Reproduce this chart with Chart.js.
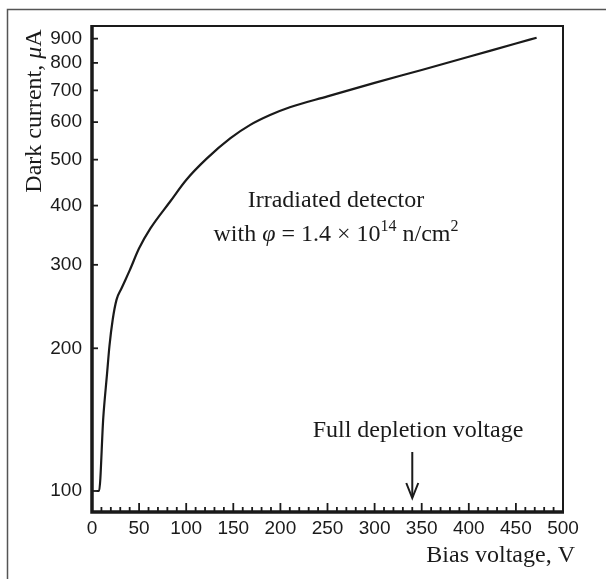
<!DOCTYPE html>
<html>
<head>
<meta charset="utf-8">
<script src="https://cdn.jsdelivr.net/npm/chart.js@4"></script>
<style>
html,body{margin:0;padding:0;background:#fff;}
#wrap{position:relative;width:606px;height:579px;}
</style>
</head>
<body>
<div id="wrap"><canvas id="c" width="606" height="579"></canvas></div>
<script>
// Data
const biasVoltage = [5, 7.5, 12, 16, 18.5, 22, 26, 31.5, 40, 50, 62, 83, 100, 122, 147, 168, 189, 210, 250, 300, 350, 400, 450, 472];
const darkCurrent = [100, 100, 143, 177, 202, 230, 253, 268, 292, 325, 358, 408, 453, 503, 555, 592, 621, 645, 680, 726, 773, 824, 879, 904];
const yTickValues = [100, 200, 300, 400, 500, 600, 700, 800, 900];
const xMajorStep = 50;
const xMinorStep = 10;
const depletionVoltage = 340;
const annotationLine1 = "Irradiated detector";
const xTitle = "Bias voltage, V";
const depletionLabel = "Full depletion voltage";

const SERIF = '"Liberation Serif", "Times New Roman", serif';
const SANS = '"Liberation Sans", Arial, sans-serif';
const INK = '#1a1a1a';
const FS = 24, FSUP = 16;

function drawParts(ctx, parts, x0, y) {
  ctx.textAlign = 'left';
  parts.forEach(p => { ctx.font = p.f; ctx.fillText(p.t, x0, y + (p.dy || 0)); x0 += ctx.measureText(p.t).width; });
}
function partsWidth(ctx, parts) {
  let w = 0;
  parts.forEach(p => { ctx.font = p.f; w += ctx.measureText(p.t).width; });
  return w;
}

const decorPlugin = {
  id: 'decor',
  beforeDraw(chart) {
    const ctx = chart.ctx;
    ctx.save();
    ctx.fillStyle = '#fff';
    ctx.fillRect(0, 0, chart.width, chart.height);
    ctx.strokeStyle = '#555';
    ctx.lineWidth = 1.5;
    ctx.beginPath();
    ctx.moveTo(7.5, chart.height);
    ctx.lineTo(7.5, 9.5);
    ctx.lineTo(chart.width, 9.5);
    ctx.stroke();
    ctx.restore();
  },
  afterDraw(chart) {
    const ctx = chart.ctx;
    const a = chart.chartArea;
    const xs = chart.scales.x, ys = chart.scales.y;
    ctx.save();
    ctx.strokeStyle = INK;
    ctx.lineWidth = 2;
    ctx.beginPath();
    ctx.moveTo(a.left, a.top); ctx.lineTo(a.right, a.top); ctx.lineTo(a.right, a.bottom);
    ctx.stroke();
    ctx.lineWidth = 3.5;
    ctx.beginPath();
    ctx.moveTo(a.left, a.top - 1); ctx.lineTo(a.left, a.bottom); ctx.lineTo(a.right + 1, a.bottom);
    ctx.stroke();
    ctx.lineWidth = 1.8;
    for (let v = xs.min; v <= xs.max; v += xMinorStep) {
      const px = xs.getPixelForValue(v);
      const len = (v % xMajorStep === 0) ? 9 : 5;
      ctx.beginPath(); ctx.moveTo(px, a.bottom); ctx.lineTo(px, a.bottom - len); ctx.stroke();
    }
    yTickValues.forEach(v => {
      const py = ys.getPixelForValue(v);
      ctx.beginPath(); ctx.moveTo(a.left, py); ctx.lineTo(a.left + 6, py); ctx.stroke();
    });
    ctx.fillStyle = INK;
    ctx.textBaseline = 'alphabetic';
    const cx = 336;
    ctx.font = FS + 'px ' + SERIF;
    ctx.textAlign = 'center';
    ctx.fillText(annotationLine1, cx, 207);
    const parts = [
      {t: 'with ', f: FS + 'px ' + SERIF},
      {t: '\u03C6', f: 'italic ' + FS + 'px ' + SERIF},
      {t: ' = 1.4 \u00D7 10', f: FS + 'px ' + SERIF},
      {t: '14', f: FSUP + 'px ' + SERIF, dy: -10},
      {t: ' n/cm', f: FS + 'px ' + SERIF},
      {t: '2', f: FSUP + 'px ' + SERIF, dy: -10}
    ];
    drawParts(ctx, parts, cx - partsWidth(ctx, parts) / 2, 241);
    const ax = xs.getPixelForValue(depletionVoltage);
    ctx.font = FS + 'px ' + SERIF;
    ctx.textAlign = 'center';
    ctx.fillText(depletionLabel, 418, 437);
    ctx.lineWidth = 2;
    ctx.beginPath(); ctx.moveTo(ax, 452); ctx.lineTo(ax, 497); ctx.stroke();
    ctx.beginPath(); ctx.moveTo(ax - 6, 483); ctx.lineTo(ax, 498); ctx.lineTo(ax + 6, 483); ctx.stroke();
    ctx.font = FS + 'px ' + SERIF;
    ctx.textAlign = 'right';
    ctx.fillText(xTitle, 575, 562);
    // y title rotated
    const yParts = [
      {t: 'Dark current, ', f: FS + 'px ' + SERIF},
      {t: '\u03BC', f: 'italic ' + FS + 'px ' + SERIF},
      {t: 'A', f: FS + 'px ' + SERIF}
    ];
    const w = partsWidth(ctx, yParts);
    ctx.save();
    ctx.translate(41, 111);
    ctx.rotate(-Math.PI / 2);
    drawParts(ctx, yParts, -w / 2, 0);
    ctx.restore();
    ctx.restore();
  }
};

new Chart(document.getElementById('c'), {
  type: 'line',
  data: {
    datasets: [{
      data: biasVoltage.map((v, i) => ({x: v, y: darkCurrent[i]})),
      borderColor: INK,
      borderWidth: 2.2,
      pointRadius: 0,
      cubicInterpolationMode: 'monotone',
      fill: false
    }]
  },
  options: {
    responsive: false,
    animation: false,
    devicePixelRatio: 1,
    layout: {padding: {left: 30, top: 26, right: 43, bottom: 27}},
    plugins: {legend: {display: false}, tooltip: {enabled: false}},
    scales: {
      x: {
        type: 'linear', min: 0, max: 500,
        ticks: {stepSize: xMajorStep, color: INK, font: {family: SANS, size: 19}, padding: 5, maxRotation: 0, autoSkip: false},
        grid: {display: false, drawTicks: false},
        border: {display: false},
        afterFit(s) { s.height = 40; }
      },
      y: {
        type: 'logarithmic', min: 90.3, max: 957,
        afterBuildTicks(s) { s.ticks = yTickValues.map(v => ({value: v})); },
        ticks: {color: INK, font: {family: SANS, size: 19}, padding: 10, callback: v => String(v), autoSkip: false},
        grid: {display: false, drawTicks: false},
        border: {display: false},
        afterFit(s) { s.width = 62; }
      }
    }
  },
  plugins: [decorPlugin]
});
</script>
</body>
</html>
